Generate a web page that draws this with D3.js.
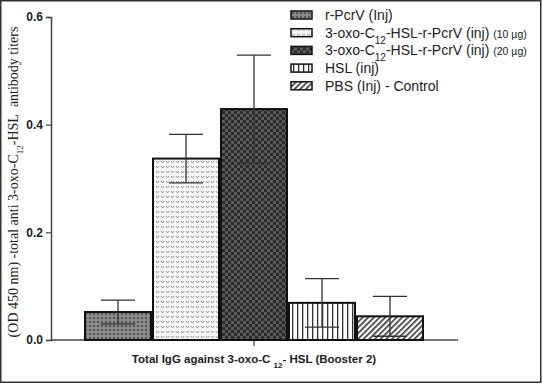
<!DOCTYPE html>
<html>
<head>
<meta charset="utf-8">
<script src="https://cdn.jsdelivr.net/npm/d3@7"></script>
<style>
  body { margin: 0; background: #fff; }
  svg { display: block; }
</style>
</head>
<body>
<div id="chart"></div>
<script>
// chart values
var groups = ["r-PcrV (Inj)", "10ug", "20ug", "HSL (inj)", "PBS (Inj) - Control"];
var means = [0.052, 0.337, 0.429, 0.069, 0.044];
var errs = [0.022, 0.045, 0.100, 0.045, 0.037];
var yTicks = [0.0, 0.2, 0.4, 0.6];
var patternIds = ["p1", "p2", "p3", "p4", "p5"];

var svgWidth = 543, svgHeight = 384;

var svg = d3.select("#chart")
  .append("svg")
  .attr("width", svgWidth)
  .attr("height", svgHeight);

// patterns for the bar fills
var defs = svg.append("defs");

var p1 = defs.append("pattern").attr("id", "p1").attr("patternUnits", "userSpaceOnUse")
  .attr("width", 4).attr("height", 4);
p1.append("rect").attr("width", 4).attr("height", 4).attr("fill", "#8a8a8a");
p1.append("rect").attr("x", 1).attr("y", 1).attr("width", 2).attr("height", 2).attr("fill", "#555");

var p2 = defs.append("pattern").attr("id", "p2").attr("patternUnits", "userSpaceOnUse")
  .attr("width", 5).attr("height", 5);
p2.append("rect").attr("width", 5).attr("height", 5).attr("fill", "#f6f6f6");
p2.append("path").attr("d", "M1,1 L2.5,3 L4,1").attr("fill", "none").attr("stroke", "#999").attr("stroke-width", 1);

var p3 = defs.append("pattern").attr("id", "p3").attr("patternUnits", "userSpaceOnUse")
  .attr("width", 6).attr("height", 6);
p3.append("rect").attr("width", 6).attr("height", 6).attr("fill", "#2c2c2c");
p3.append("rect").attr("width", 3).attr("height", 3).attr("fill", "#5a5a5a");
p3.append("rect").attr("x", 3).attr("y", 3).attr("width", 3).attr("height", 3).attr("fill", "#5a5a5a");

var p4 = defs.append("pattern").attr("id", "p4").attr("patternUnits", "userSpaceOnUse")
  .attr("width", 5).attr("height", 5);
p4.append("rect").attr("width", 5).attr("height", 5).attr("fill", "#fff");
p4.append("rect").attr("x", 2).attr("width", 1.3).attr("height", 5).attr("fill", "#333");

var p5 = defs.append("pattern").attr("id", "p5").attr("patternUnits", "userSpaceOnUse")
  .attr("width", 4).attr("height", 4).attr("patternTransform", "rotate(45)");
p5.append("rect").attr("width", 4).attr("height", 4).attr("fill", "#fff");
p5.append("rect").attr("width", 1.6).attr("height", 4).attr("fill", "#333");

// outer frame
svg.append("rect")
  .attr("x", 0.75).attr("y", 0.75)
  .attr("width", 540).attr("height", 381.5)
  .attr("fill", "none").attr("stroke", "#333").attr("stroke-width", 1.5);

// scales
var yScale = d3.scaleLinear().domain([0, 0.6]).range([340, 17]);
var xScale = d3.scaleBand().domain(groups).range([84, 424]).paddingInner(0).paddingOuter(0);

// y axis
var leftAxis = d3.axisLeft(yScale).tickValues(yTicks).tickFormat(d3.format(".1f")).tickSize(5).tickPadding(3);
var yAxisG = svg.append("g").attr("transform", "translate(51,0)").call(leftAxis);
yAxisG.select(".domain").attr("stroke", "#444").attr("stroke-width", 1.5);
yAxisG.selectAll(".tick line").attr("stroke", "#444").attr("stroke-width", 1.2);
yAxisG.selectAll(".tick text")
  .attr("font-family", "Liberation Sans, Arial, sans-serif")
  .attr("font-weight", "bold").attr("font-size", 12).attr("fill", "#222");

// x axis line and single center tick
svg.append("line")
  .attr("x1", 51).attr("x2", 458)
  .attr("y1", yScale(0)).attr("y2", yScale(0))
  .attr("stroke", "#444").attr("stroke-width", 1.5);
svg.append("line")
  .attr("x1", 254).attr("x2", 254)
  .attr("y1", yScale(0)).attr("y2", yScale(0) + 6)
  .attr("stroke", "#444").attr("stroke-width", 1.2);

// bars
var data = groups.map(function(g, i) { return { g: g, v: means[i], e: errs[i], p: patternIds[i] }; });

svg.selectAll(".bar")
  .data(data)
  .enter()
  .append("rect")
  .attr("class", "bar")
  .attr("x", d => xScale(d.g) + 1)
  .attr("y", d => yScale(d.v))
  .attr("width", xScale.bandwidth() - 2)
  .attr("height", d => yScale(0) - yScale(d.v))
  .attr("fill", d => "url(#" + d.p + ")")
  .attr("stroke", "#111")
  .attr("stroke-width", 2);

// error bars
var eb = svg.selectAll(".err").data(data).enter().append("g").attr("class", "err")
  .attr("stroke", "#333").attr("stroke-width", 1.3);
eb.append("line")
  .attr("x1", d => xScale(d.g) + xScale.bandwidth() / 2)
  .attr("x2", d => xScale(d.g) + xScale.bandwidth() / 2)
  .attr("y1", d => yScale(d.v - d.e))
  .attr("y2", d => yScale(d.v + d.e));
[1, -1].forEach(function(s) {
  eb.append("line")
    .attr("x1", d => xScale(d.g) + xScale.bandwidth() / 4)
    .attr("x2", d => xScale(d.g) + xScale.bandwidth() * 3 / 4)
    .attr("y1", d => yScale(d.v + s * d.e))
    .attr("y2", d => yScale(d.v + s * d.e));
});

// axis titles
var yLab = svg.append("text")
  .attr("transform", "translate(18,182) rotate(-90)")
  .attr("text-anchor", "middle")
  .attr("font-family", "Liberation Serif, Times New Roman, serif")
  .attr("font-size", 14).attr("fill", "#222");
yLab.append("tspan").text("(OD 450 nm) -total anti 3-oxo-C");
yLab.append("tspan").attr("font-size", 9).attr("baseline-shift", "sub").text("12");
yLab.append("tspan").text("-HSL\u00a0\u00a0antibody titers");

var xLab = svg.append("text")
  .attr("x", 254).attr("y", 363)
  .attr("text-anchor", "middle")
  .attr("font-family", "Liberation Sans, Arial, sans-serif")
  .attr("font-weight", "bold").attr("font-size", 11.5).attr("fill", "#222");
xLab.append("tspan").text("Total IgG against 3-oxo-C ");
xLab.append("tspan").attr("font-size", 8).attr("baseline-shift", "sub").text("12");
xLab.append("tspan").text("- HSL (Booster 2)");

// legend
var legend = svg.selectAll(".leg").data(data).enter().append("g").attr("class", "leg")
  .attr("transform", (d, i) => "translate(291," + (15 + i * 17.7) + ")");
legend.append("rect")
  .attr("x", 0).attr("y", -4).attr("width", 21).attr("height", 8)
  .attr("fill", d => "url(#" + d.p + ")")
  .attr("stroke", "#111").attr("stroke-width", 1.5);

var legText = legend.append("text")
  .attr("x", 34).attr("y", 5)
  .attr("font-family", "Liberation Sans, Arial, sans-serif")
  .attr("font-size", 14).attr("fill", "#222");
legText.each(function(d, i) {
  var t = d3.select(this);
  if (i === 1 || i === 2) {
    t.append("tspan").text("3-oxo-C");
    t.append("tspan").attr("font-size", 10).attr("baseline-shift", "sub").text("12");
    t.append("tspan").text("-HSL-r-PcrV (inj) ");
    t.append("tspan").attr("font-size", 10.5).text(i === 1 ? "(10 µg)" : "(20 µg)");
  } else {
    t.text(d.g);
  }
});
</script>
</body>
</html>
